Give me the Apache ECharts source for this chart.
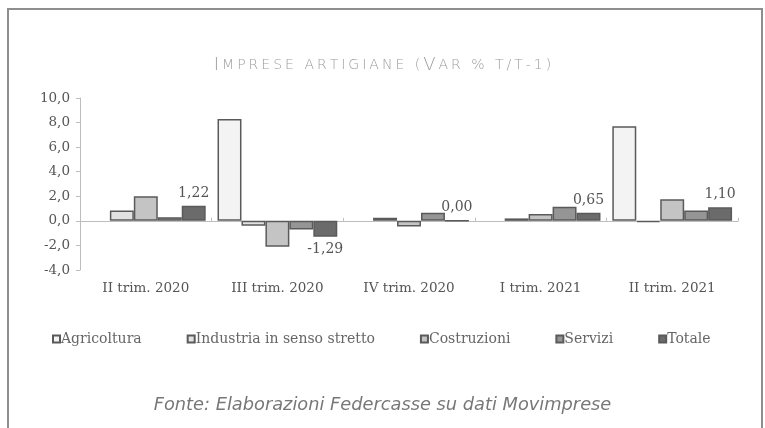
<!DOCTYPE html>
<html>
<head>
<meta charset="utf-8">
<script src="https://cdn.jsdelivr.net/npm/echarts@6/dist/echarts.min.js"></script>
<style>
  html, body { margin: 0; padding: 0; background: #fff; }
  #chart { width: 765px; height: 428px; }
</style>
</head>
<body>
<div id="chart"></div>
<script>
const categories = ['II trim. 2020', 'III trim. 2020', 'IV trim. 2020', 'I trim. 2021', 'II trim. 2021'];
const seriesNames = ['Agricoltura', 'Industria in senso stretto', 'Costruzioni', 'Servizi', 'Totale'];
const agricoltura = [null, 8.3, null, null, 7.7];
const industria = [0.85, -0.4, 0.25, 0.2, -0.1];
const costruzioni = [2.0, -2.1, -0.45, 0.55, 1.75];
const servizi = [0.3, -0.7, 0.65, 1.15, 0.85];
const totale = [1.22, -1.29, 0.00, 0.65, 1.10];
const yTicks = [-4, -2, 0, 2, 4, 6, 8, 10];
const titleText = 'Imprese artigiane (Var % t/t-1)';

const serif = "'DejaVu Serif', serif";
const fills = ['#f3f3f3', '#e2e2e2', '#c4c4c4', '#959595', '#6b6b6b'];
const values = [agricoltura, industria, costruzioni, servizi, totale];
const comma = (v, d) => v.toFixed(d).replace('.', ',');

// small caps title: capitals large, the rest upper-cased and smaller, letter-spaced
const titleRich = titleText.split('').map(c => {
    const big = c !== c.toLowerCase();
    return '{' + (big ? 'b' : 's') + '|' + c.toUpperCase() + '}';
}).join('');

const chart = echarts.init(document.getElementById('chart'), null, { renderer: 'canvas' });

const series = seriesNames.map((name, i) => {
    const isTot = i === 4;
    return {
        name,
        type: 'bar',
        xAxisIndex: 0,
        barGap: '0%',
        barCategoryGap: '9%',
        itemStyle: { color: fills[i], borderColor: '#5a5a5a', borderWidth: 1.5 },
        data: values[i].map(v => isTot
            ? { value: v, label: { show: true, position: v < 0 ? 'bottom' : 'top' } }
            : v),
        label: {
            show: false,
            distance: 6,
            formatter: p => comma(p.value, 2),
            fontFamily: serif,
            fontSize: 14,
            color: '#555'
        }
    };
});

const titleFont = { fontFamily: "'DejaVu Sans', sans-serif", fontWeight: 200, color: '#9c9c9c', padding: [0, 1.5, 0, 1.5] };

chart.setOption({
    backgroundColor: '#fff',
    animation: false,
    title: {
        left: 'center',
        top: 51,
        text: titleRich,
        textStyle: {
            rich: {
                b: { ...titleFont, fontSize: 18 },
                s: { ...titleFont, fontSize: 14 }
            }
        }
    },
    legend: {
        left: 47,
        top: 327,
        itemWidth: 7,
        itemHeight: 7,
        itemGap: 45,
        icon: 'rect',
        textStyle: { fontFamily: serif, fontSize: 14, color: '#666', padding: [0, 0, 0, -4] },
        data: seriesNames
    },
    grid: { left: 80, right: 27, top: 98, bottom: 158 },
    xAxis: [{
        type: 'category',
        data: categories,
        position: 'bottom',
        axisLine: { show: false, onZero: false },
        axisTick: { show: false },
        axisLabel: { margin: 11, fontFamily: serif, fontSize: 13.5, color: '#555' }
    }, {
        type: 'category',
        data: categories,
        axisLine: { show: true, onZero: true, lineStyle: { color: '#bdbdbd', width: 1 } },
        axisTick: { show: true, length: 3, lineStyle: { color: '#bdbdbd' } },
        axisLabel: { show: false }
    }],
    yAxis: {
        type: 'value',
        min: yTicks[0],
        max: yTicks[yTicks.length - 1],
        interval: 2,
        axisLine: { show: true, lineStyle: { color: '#bdbdbd' } },
        axisTick: { show: true, length: 4, lineStyle: { color: '#bdbdbd' } },
        splitLine: { show: false },
        axisLabel: { margin: 10, fontFamily: serif, fontSize: 13.5, color: '#555', formatter: v => comma(v, 1) }
    },
    series,
    graphic: [{
        type: 'rect',
        shape: { x: 8, y: 9, width: 754, height: 440 },
        style: { fill: null, stroke: '#8e8e8e', lineWidth: 2 },
        silent: true
    }, {
        type: 'text',
        left: 'center',
        top: 396,
        style: {
            text: 'Fonte: Elaborazioni Federcasse su dati Movimprese',
            fontFamily: "'DejaVu Sans', sans-serif",
            fontStyle: 'italic',
            fontWeight: 200,
            fontSize: 17.8,
            fill: '#777'
        }
    }]
});
</script>
</body>
</html>
